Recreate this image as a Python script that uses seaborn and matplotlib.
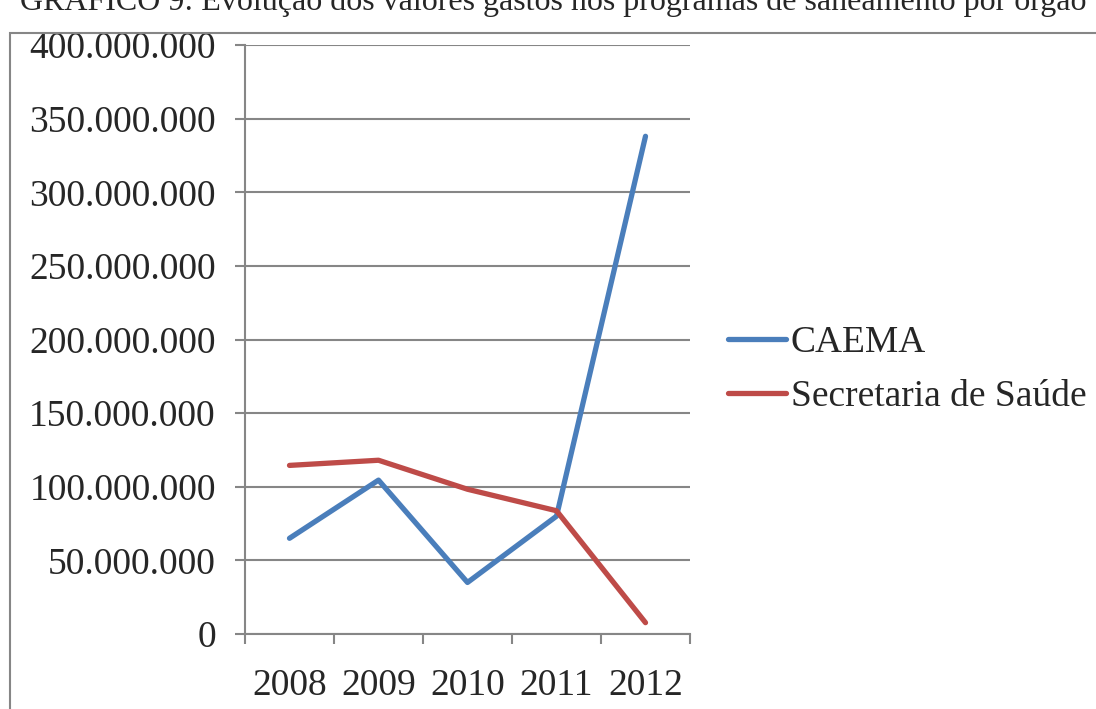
import numpy as np
import pandas as pd
import seaborn as sns
import matplotlib.pyplot as plt
from matplotlib.ticker import FuncFormatter, FixedLocator
from matplotlib.patches import Rectangle

anos = ["2008", "2009", "2010", "2011", "2012"]
caema = [65000000, 104500000, 35000000, 80000000, 338000000]
saude = [114500000, 118000000, 98300000, 83700000, 7700000]
series = ["CAEMA", "Secretaria de Saúde"]
cores = ["#4A7EBB", "#BE4B48"]
titulo = "GRÁFICO 9: Evolução dos valores gastos nos programas de saneamento por órgão"

df = pd.DataFrame({
    "ano": anos * 2,
    "valor": caema + saude,
    "serie": [series[0]] * len(anos) + [series[1]] * len(anos),
})

sns.set_style("white")
plt.rcParams['font.family'] = ['Liberation Serif', 'DejaVu Serif']

fig = plt.figure(figsize=(10.96, 7.09), dpi=100)
ax = fig.add_axes([245/1096, 1-634/709, (690-245)/1096, (634-45)/709])

sns.lineplot(data=df, x="ano", y="valor", hue="serie", palette=cores,
             linewidth=3.8, ax=ax, sort=False)
for l in ax.lines:
    l.set_solid_capstyle('round')
    l.set_solid_joinstyle('round')

grid_c = "#868686"
ax.set_ylim(0, 400000000)
ax.set_yticks(np.arange(0, 400000001, 50000000))
ax.yaxis.set_major_formatter(FuncFormatter(lambda v, p: f"{int(v):,}".replace(",", ".")))
ax.set_xlim(-0.5, 4.5)
ax.set_xticks(range(len(anos)))
ax.set_xticklabels(anos)
ax.xaxis.set_minor_locator(FixedLocator(np.arange(-0.5, 4.6, 1)))
ax.grid(axis="y", color=grid_c, linewidth=1.5)
ax.set_axisbelow(True)
for s in ["top", "right"]:
    ax.spines[s].set_visible(False)
for s in ["left", "bottom"]:
    ax.spines[s].set_color(grid_c)
    ax.spines[s].set_linewidth(1.5)
ax.tick_params(axis="y", which="major", length=7, width=1.5, color=grid_c,
               direction="out", pad=14, labelsize=27, left=True)
ax.tick_params(axis="x", which="major", length=0, pad=25, labelsize=27)
ax.tick_params(axis="x", which="minor", length=7, width=1.5, color=grid_c,
               direction="out", bottom=True)
ax.set_xlabel("")
ax.set_ylabel("")

ax.legend(handles=ax.lines[:2], labels=series, frameon=False, loc="center left",
          bbox_to_anchor=(728/1096, 1-369.5/709), bbox_transform=fig.transFigure,
          fontsize=27, handlelength=1.55, handletextpad=0.13, labelspacing=0.52,
          borderpad=0, borderaxespad=0)

fig.patches.append(Rectangle((10/1096, -0.1), 1.2, 1-33/709+0.1, transform=fig.transFigure,
                             fill=False, edgecolor=grid_c, linewidth=1.5))
fig.text(20/1096, 1-10/709, titulo, fontsize=23, ha="left", va="baseline")

fig.savefig("out.png", dpi=100)
